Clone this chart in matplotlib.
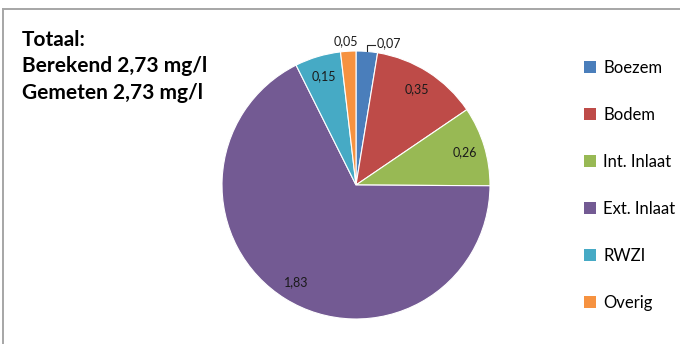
import numpy as np
import matplotlib
matplotlib.use("Agg")
import matplotlib.pyplot as plt
from matplotlib.patches import Patch
from matplotlib.lines import Line2D

plt.rcParams['font.family'] = ['Lato', 'DejaVu Sans']

categories = ["Boezem", "Bodem", "Int. Inlaat", "Ext. Inlaat", "RWZI", "Overig"]
values = [0.07, 0.35, 0.26, 1.83, 0.15, 0.05]
colors = ["#4A7EBB", "#BE4B48", "#98B954", "#735A93", "#46AAC5", "#F69240"]
title_lines = ["Totaal:", "Berekend 2,73 mg/l", "Gemeten 2,73 mg/l"]

W, H = 680, 344
fig = plt.figure(figsize=(W / 100, H / 100), dpi=100)

# pie area: centre and radius in pixels
cx, cy, R = 356, 185, 134
ax = fig.add_axes([(cx - R) / W, (H - cy - R) / H, 2 * R / W, 2 * R / H])
wedges, _ = ax.pie(values, colors=colors, startangle=90, counterclock=False,
                   radius=1.0, wedgeprops=dict(linewidth=0.8, edgecolor="white"))
ax.set_xlim(-1, 1)
ax.set_ylim(-1, 1)
ax.set_aspect("equal")
ax.axis("off")

def fmt(v):
    return f"{v:.2f}".replace(".", ",")

lab_fs = 9.0

# value labels
for i, (w, v) in enumerate(zip(wedges, values)):
    mid = np.deg2rad((w.theta1 + w.theta2) / 2)
    if v < 0.1:
        continue
    ax.text(0.85 * np.cos(mid), 0.85 * np.sin(mid), fmt(v), ha="center", va="center",
            fontsize=lab_fs, color="#1a1a1a")

# small slices labelled outside the pie
w0 = wedges[0]
m0 = np.deg2rad((w0.theta1 + w0.theta2) / 2)
x0, y0 = np.cos(m0), np.sin(m0)
ax.plot([x0, x0, x0 + 0.06], [y0, y0 + 0.05, y0 + 0.05], color="#262626", lw=0.8,
        clip_on=False)
ax.text(x0 + 0.075, y0 + 0.06, fmt(values[0]), ha="left", va="center", fontsize=lab_fs,
        color="#1a1a1a")
w5 = wedges[5]
m5 = np.deg2rad((w5.theta1 + w5.theta2) / 2)
ax.text(np.cos(m5) - 0.02, np.sin(m5) + 0.075, fmt(values[5]), ha="center", va="center",
        fontsize=lab_fs, color="#1a1a1a")

# summary text
for k, line in enumerate(title_lines):
    fig.text(22 / W, 1 - (40 + 26.5 * k) / H, line, ha="left", va="center",
             fontsize=15, fontweight="bold", color="#000000")

# legend
handles = [Patch(facecolor=c, edgecolor="none") for c in colors]
leg = fig.legend(handles, categories, loc="upper left",
                 bbox_to_anchor=(584 / W, 1 - 60 / H), frameon=False,
                 fontsize=12, handlelength=0.7, handleheight=0.7,
                 handletextpad=0.45, labelspacing=1.86, borderaxespad=0,
                 borderpad=0)

# chart border (top and left edges visible)
border = "#A6A6A6"
fig.add_artist(Line2D([2.5 / W, 1], [1 - 8.5 / H, 1 - 8.5 / H], color=border, lw=1.4))
fig.add_artist(Line2D([2.5 / W, 2.5 / W], [0, 1 - 8.5 / H], color=border, lw=1.4))

fig.savefig("out.png", dpi=100, facecolor="white")
